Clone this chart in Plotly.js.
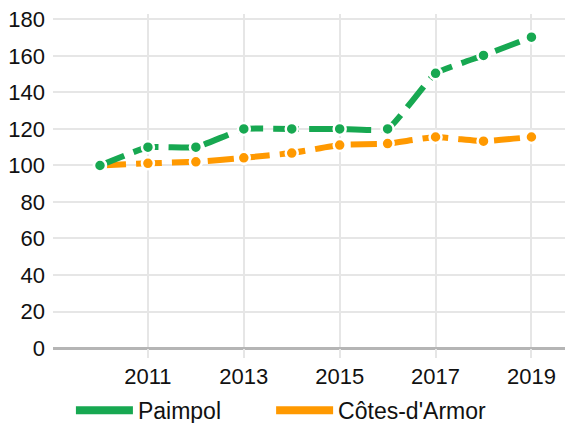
<!DOCTYPE html>
<html><head><meta charset="utf-8">
<script src="https://cdn.plot.ly/plotly-3.0.1.min.js"></script>
<style>html,body{margin:0;padding:0;background:#fff}#c{width:565px;height:423px}</style>
</head><body><div id="c"></div>
<script>
const years = [2010, 2011, 2012, 2013, 2014, 2015, 2016, 2017, 2018, 2019];
const paimpol = [100, 110, 110, 120, 120, 120, 120, 150.5, 160.3, 170.3];
const cotesArmor = [100, 101.2, 102, 104.2, 106.8, 111.2, 112, 115.6, 113.3, 115.6];
const seriesNames = ['Paimpol', "Côtes-d'Armor"];
const colors = ['#17a851', '#ff9900'];
const legendIds = ['legend', 'legend2'];

const legendTraces = seriesNames.map((n, i) => ({
  x: [null], y: [null], type: 'scatter', mode: 'lines', name: n, legend: legendIds[i],
  line: {color: colors[i], width: 8}
}));
const lineTraces = [paimpol, cotesArmor].map((vals, i) => ({
  x: years, y: vals, type: 'scatter', mode: 'lines+markers', showlegend: false,
  line: {color: colors[i], width: 6, dash: '26px,10px', shape: 'spline', smoothing: 0.35},
  marker: {color: colors[i], size: 12, line: {color: '#fff', width: 2.5}},
  cliponaxis: false
})).reverse();

const legendBase = {orientation: 'h', xanchor: 'left', yref: 'container', y: 0.03, yanchor: 'middle',
  font: {size: 23, color: '#111'}, itemwidth: 57, bgcolor: 'rgba(0,0,0,0)'};

const layout = {
  width: 565, height: 423,
  margin: {l: 53, r: 0, t: 14, b: 75},
  paper_bgcolor: '#fff', plot_bgcolor: '#fff',
  font: {family: "'Liberation Sans', Arial, sans-serif", size: 22, color: '#111'},
  xaxis: {
    range: [2009.02, 2019.7], tick0: 2011, dtick: 2, showgrid: true,
    gridcolor: '#e6e6e6', gridwidth: 2, zeroline: false, showline: false,
    ticks: 'outside', ticklen: 9, tickwidth: 2, tickcolor: '#e6e6e6', ticklabelstandoff: 0,
    tickfont: {size: 22, color: '#111'}, fixedrange: true, automargin: false
  },
  yaxis: {
    range: [0, 183], tick0: 0, dtick: 20, showgrid: true,
    gridcolor: '#e6e6e6', gridwidth: 2, zeroline: true, zerolinecolor: '#b5b5b5', zerolinewidth: 3,
    showline: false, ticks: '', ticklabelstandoff: 7,
    tickfont: {size: 22, color: '#111'}, fixedrange: true, automargin: false
  },
  legend: Object.assign({}, legendBase, {x: 0.035}),
  legend2: Object.assign({}, legendBase, {x: 0.426}),
  showlegend: true
};
Plotly.newPlot('c', legendTraces.concat(lineTraces), layout, {displayModeBar: false, staticPlot: true});
</script>
</body></html>
